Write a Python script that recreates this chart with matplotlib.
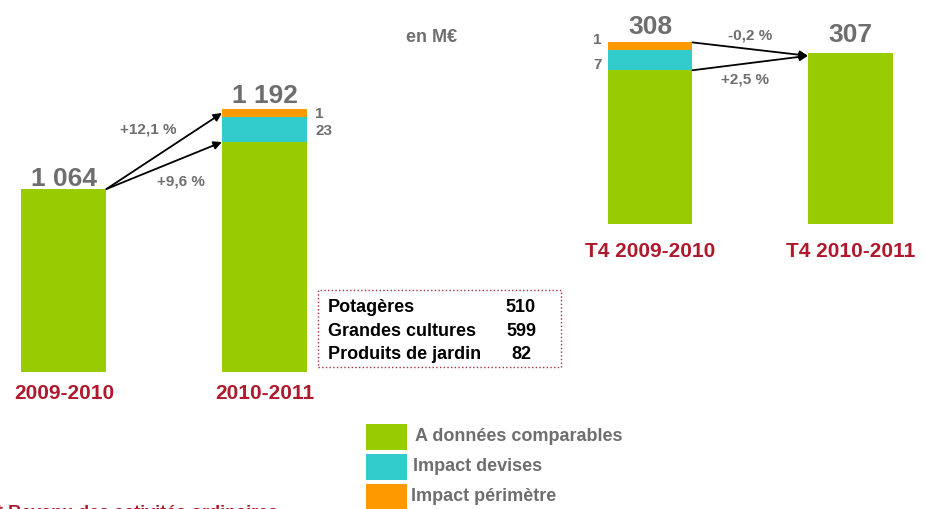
import matplotlib.pyplot as plt
from matplotlib.patches import Rectangle

plt.rcParams['font.family'] = ['Liberation Sans', 'DejaVu Sans']

# Données (M€)
periodes_annee = ["2009-2010", "2010-2011"]
total_annee = ["1 064", "1 192"]
devises_annee = ["", "23"]
perimetre_annee = ["", "1"]
# hauteurs affichées (le graphique d'origine n'est pas à l'échelle)
h_comparable_annee = [1064, 1337]
h_devises_annee = [0, 145]
h_perimetre_annee = [0, 47]
var_annee = ["+12,1 %", "+9,6 %"]

periodes_t4 = ["T4 2009-2010", "T4 2010-2011"]
total_t4 = ["308", "307"]
devises_t4 = ["7", ""]
perimetre_t4 = ["1", ""]
h_comparable_t4 = [276, 307]
h_devises_t4 = [36, 0]
h_perimetre_t4 = [14, 0]
var_t4 = ["-0,2 %", "+2,5 %"]

segments = ["Potagères", "Grandes cultures", "Produits de jardin"]
ca_segments = [510, 599, 82]

legende = ["A données comparables", "Impact devises", "Impact périmètre"]

VERT = '#99CC00'
CYAN = '#33CCCC'
ORANGE = '#FF9900'
GRIS = '#6E6E6E'
ROUGE = '#B0182B'

W, H = 926, 510
fig = plt.figure(figsize=(W / 100, H / 100), dpi=100)


def fx(x):
    return x / W


def fy(y):
    return 1 - y / H


def empile(ax, comp, dev, per):
    x = range(len(comp))
    ax.bar(x, comp, width=0.424, color=VERT)
    ax.bar(x, dev, bottom=comp, width=0.424, color=CYAN)
    bas = [c + d for c, d in zip(comp, dev)]
    ax.bar(x, per, bottom=bas, width=0.424, color=ORANGE)
    ax.set_axis_off()


# --- graphique annuel ---
ax1 = fig.add_axes([0, fy(373), fx(330), 373 / H])
ax1.set_xlim(-0.319, 1.327)
ax1.set_ylim(0, 373 * 1064 / 183)
empile(ax1, h_comparable_annee, h_devises_annee, h_perimetre_annee)

# --- graphique T4 ---
ax2 = fig.add_axes([fx(560), fy(225), fx(366), 225 / H])
ax2.set_xlim(-0.449, 1.377)
ax2.set_ylim(0, 225 * 307 / 171)
empile(ax2, h_comparable_t4, h_devises_t4, h_perimetre_t4)

for ax, comp, dev, per, tot, decs in [
        (ax1, h_comparable_annee, h_devises_annee, h_perimetre_annee, total_annee, [3, 5]),
        (ax2, h_comparable_t4, h_devises_t4, h_perimetre_t4, total_t4, [7, 9])]:
    for i in range(2):
        haut = comp[i] + dev[i] + per[i]
        ax.annotate(tot[i], (i, haut), xytext=(0, decs[i]), textcoords='offset points',
                    ha='center', va='baseline', fontsize=19, fontweight='bold',
                    color=GRIS, annotation_clip=False)

# petites étiquettes devises / périmètre
for i in range(2):
    if devises_annee[i]:
        c, d, p = h_comparable_annee[i], h_devises_annee[i], h_perimetre_annee[i]
        ax1.annotate(devises_annee[i], (i + 0.212, c + d / 2), xytext=(6, 0),
                     textcoords='offset points', ha='left', va='center',
                     fontsize=11, fontweight='bold', color=GRIS, annotation_clip=False)
        ax1.annotate(perimetre_annee[i], (i + 0.212, c + d + p / 2), xytext=(6, 0),
                     textcoords='offset points', ha='left', va='center',
                     fontsize=11, fontweight='bold', color=GRIS, annotation_clip=False)
    if devises_t4[i]:
        c, d, p = h_comparable_t4[i], h_devises_t4[i], h_perimetre_t4[i]
        ax2.annotate(devises_t4[i], (i - 0.212, c + d / 2), xytext=(-4, -3),
                     textcoords='offset points', ha='right', va='center',
                     fontsize=11, fontweight='bold', color=GRIS, annotation_clip=False)
        ax2.annotate(perimetre_t4[i], (i - 0.212, c + d + p / 2), xytext=(-4, 5),
                     textcoords='offset points', ha='right', va='center',
                     fontsize=11, fontweight='bold', color=GRIS, annotation_clip=False)

# flèches
fleche = dict(arrowstyle='-|>', color='black', lw=1.3, mutation_scale=12,
              shrinkA=0, shrinkB=0)
d1 = (0.212, h_comparable_annee[0])
ax1.annotate('', xy=(0.788, h_comparable_annee[1] + h_devises_annee[1] + h_perimetre_annee[1] / 2),
             xytext=d1, arrowprops=fleche)
ax1.annotate('', xy=(0.788, h_comparable_annee[1]), xytext=d1, arrowprops=fleche)
a2 = (0.788, h_comparable_t4[1] - 5)
ax2.annotate('', xy=a2, xytext=(0.212, sum([h_comparable_t4[0], h_devises_t4[0], h_perimetre_t4[0]])),
             arrowprops=fleche)
ax2.annotate('', xy=a2, xytext=(0.212, h_comparable_t4[0]), arrowprops=fleche)

# variations
fig.text(fx(148), fy(130), var_annee[0], ha='center', va='center', fontsize=11,
         fontweight='bold', color=GRIS)
fig.text(fx(181), fy(181), var_annee[1], ha='center', va='center', fontsize=11,
         fontweight='bold', color=GRIS)
fig.text(fx(750), fy(36), var_t4[0], ha='center', va='center', fontsize=11,
         fontweight='bold', color=GRIS)
fig.text(fx(745), fy(79), var_t4[1], ha='center', va='center', fontsize=11,
         fontweight='bold', color=GRIS)

fig.text(fx(432), fy(38), "en M€", ha='center', va='center', fontsize=13,
         fontweight='bold', color=GRIS)

# libellés des périodes
for i, lab in enumerate(periodes_annee):
    ax1.annotate(lab, (i, 0), xytext=(0, -15), textcoords='offset points', ha='center',
                 va='center', fontsize=15, fontweight='bold', color=ROUGE,
                 annotation_clip=False)
for i, lab in enumerate(periodes_t4):
    ax2.annotate(lab, (i, 0), xytext=(0, -19), textcoords='offset points', ha='center',
                 va='center', fontsize=15, fontweight='bold', color=ROUGE,
                 annotation_clip=False)

# encadré des segments
fig.add_artist(Rectangle((fx(318), fy(368)), fx(243), 77 / H, transform=fig.transFigure,
                         fill=False, edgecolor='#A03040', lw=1, linestyle=':'))
for k, (nom, val) in enumerate(zip(segments, ca_segments)):
    y = 308 + k * 23.5
    fig.text(fx(328), fy(y), nom, ha='left', va='center', fontsize=13,
             fontweight='bold', color='black')
    fig.text(fx(521), fy(y), str(val), ha='center', va='center', fontsize=13,
             fontweight='bold', color='black')

# légende
for k, (lab, col) in enumerate(zip(legende, [VERT, CYAN, ORANGE])):
    y0 = 425 + k * 30
    fig.add_artist(Rectangle((fx(366), fy(y0 + 26)), fx(41), 26 / H,
                             transform=fig.transFigure, color=col, lw=0))
    fig.text(fx(415 - 2 * k), fy(y0 + 12), lab, ha='left', va='center', fontsize=13,
             fontweight='bold', color=GRIS)

fig.text(fx(-4), fy(518), "* Revenu des activités ordinaires", ha='left',
         va='baseline', fontsize=13, fontweight='bold', color=ROUGE)

fig.savefig('out.png', dpi=100)
